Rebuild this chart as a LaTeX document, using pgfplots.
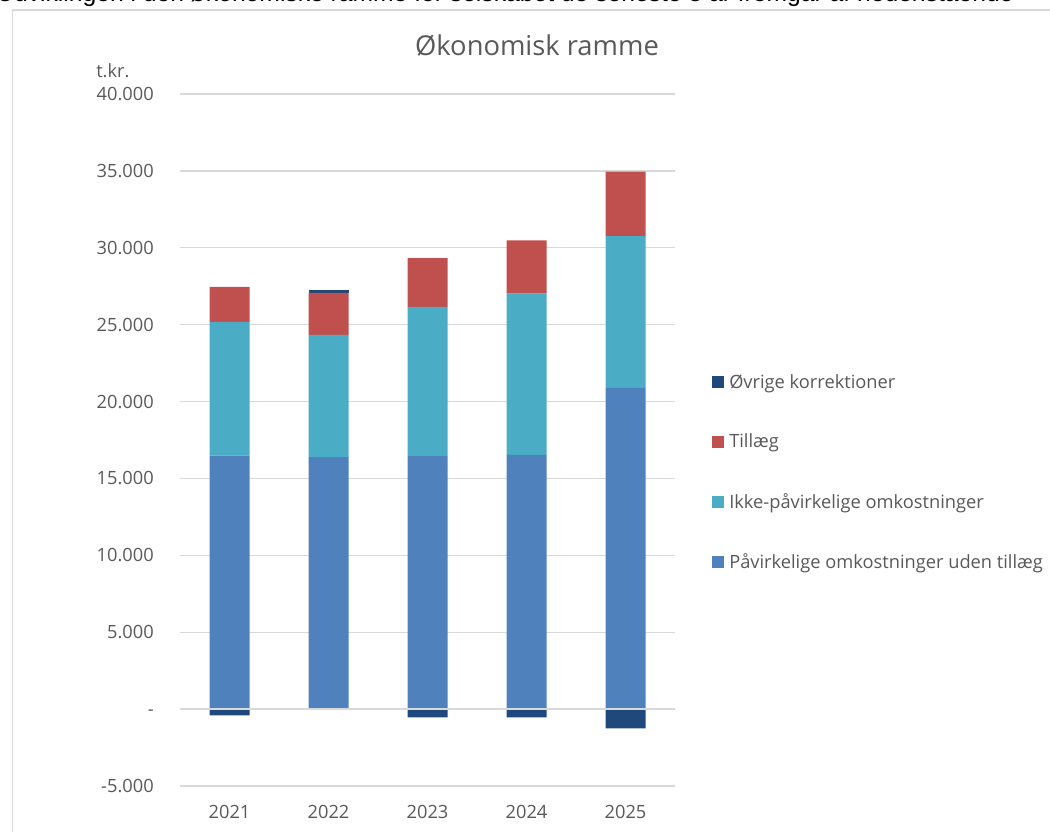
\documentclass[border=0pt]{standalone}
\usepackage{pgfplots}
\pgfplotsset{compat=1.18}
\usepackage{fontspec}
\setmainfont{Open Sans}
\newfontfamily\arialfont{Liberation Sans}
\definecolor{txt}{HTML}{595959}
\definecolor{gridc}{HTML}{D9D9D9}
\definecolor{cBlue}{HTML}{4F81BD}
\definecolor{cTeal}{HTML}{4BACC6}
\definecolor{cRed}{HTML}{C0504D}
\definecolor{cDark}{HTML}{1F497D}
\pgfplotsset{sq/.style={legend image code/.code={\fill[#1] (0pt,-4.5pt) rectangle (9pt,4.5pt);}}}
\begin{document}
\begin{tikzpicture}[x=0.75pt,y=0.75pt]
\path[use as bounding box] (0,0) rectangle (1050,832);
\begin{scope}
\clip (0,0) rectangle (1050,832);
\draw[gridc, line width=1pt] (12.5,-10) -- (12.5,822) -- (1060,822);
\node[anchor=base west, inner sep=0pt, font=\arialfont\fontsize{18.5}{22}\selectfont] at (-4,830.5) {Udviklingen i den økonomiske ramme for selskabet de seneste 5 år fremgår af nedenstående};
\end{scope}
\node[anchor=base, inner sep=0pt, font=\fontsize{20.5}{24}\selectfont, text=txt] at (537,776) {Økonomisk ramme};
\node[anchor=base west, inner sep=0pt, font=\fontsize{13.7}{16}\selectfont, text=txt] at (96,754) {t.kr.};
\begin{axis}[
  at={(135pt,34.5pt)}, anchor=south west, scale only axis,
  width=371.25pt, height=519pt,
  ybar stacked, bar width=30pt,
  xmin=-0.5, xmax=4.5, ymin=-5000, ymax=40000,
  xtick={0,1,2,3,4}, xticklabels={2021,2022,2023,2024,2025},
  ytick={-5000,0,5000,10000,15000,20000,25000,30000,35000,40000},
  yticklabels={-5.000,\vphantom{0}-,5.000,10.000,15.000,20.000,25.000,30.000,35.000,40.000},
  scaled y ticks=false,
  axis line style={draw=none}, major tick length=0pt, tick style={draw=none},
  ymajorgrids, grid style={gridc, line width=1pt},
  ticklabel style={font=\fontsize{13.7}{16}\selectfont, text=txt, inner sep=0pt},
  yticklabel style={xshift=-19.5pt},
  xticklabel style={yshift=-14.25pt},
  clip=false,
  reverse legend,
  legend cell align=left,
  legend style={at={(axis description cs:1,0.453)}, anchor=west, xshift=27.5pt,
    draw=none, fill=none, inner sep=0pt, font=\fontsize{13.7}{16}\selectfont, text=txt,
    row sep=28.8pt, /tikz/every odd column/.append style={column sep=2pt}},
]
\addplot[fill=cBlue, draw=none, sq=cBlue] coordinates {(0,16480) (1,16390) (2,16450) (3,16540) (4,20885)};
\addlegendentry{Påvirkelige omkostninger uden tillæg}
\addplot[fill=cTeal, draw=none, sq=cTeal] coordinates {(0,8700) (1,7940) (2,9700) (3,10480) (4,9880)};
\addlegendentry{Ikke-påvirkelige omkostninger}
\addplot[fill=cRed, draw=none, sq=cRed] coordinates {(0,2270) (1,2730) (2,3185) (3,3465) (4,4185)};
\addlegendentry{Tillæg}
\addplot[fill=cDark, draw=none, sq=cDark] coordinates {(0,0) (1,200) (2,0) (3,0) (4,0)};
\addlegendentry{Øvrige korrektioner}
\end{axis}
% negative part of "Øvrige korrektioner", in an overlaid axis of identical geometry
\begin{axis}[
  at={(135pt,34.5pt)}, anchor=south west, scale only axis,
  width=371.25pt, height=519pt,
  ybar, bar width=30pt, bar shift=0pt,
  xmin=-0.5, xmax=4.5, ymin=-5000, ymax=40000,
  hide axis, clip=false,
]
\addplot[fill=cDark, draw=none] coordinates {(0,-400) (2,-540) (3,-540) (4,-1255)};
\draw[gridc, line width=1.3pt] (axis cs:-0.5,0) -- (axis cs:4.5,0);
\end{axis}
\end{tikzpicture}
\end{document}
